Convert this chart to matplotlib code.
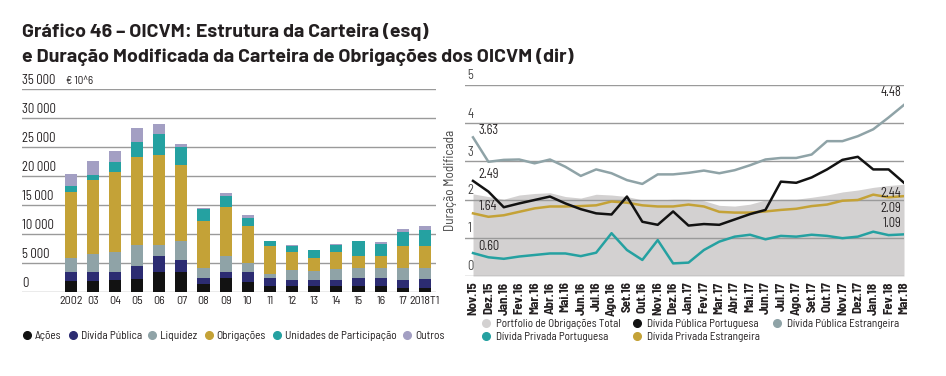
import numpy as np
import matplotlib
matplotlib.use('Agg')
import matplotlib.pyplot as plt
from matplotlib.lines import Line2D
from matplotlib import font_manager
import matplotlib.transforms as mtransforms

# left chart: portfolio structure (EUR 10^6)
years = ['2002', '03', '04', '05', '06', '07', '08', '09', '10', '11', '12', '13', '14', '15', '16', '17', '2018T1']
acoes = [1840, 1840, 2000, 2200, 3400, 3500, 1440, 2360, 1780, 1090, 980, 980, 1090, 1090, 1090, 750, 750]
div_publica = [1660, 1660, 1500, 2340, 2750, 2070, 920, 1140, 1720, 1380, 1150, 1030, 1040, 1270, 1270, 1260, 1430]
liquidez = [2300, 3100, 3450, 3510, 1950, 3170, 1840, 2650, 1500, 690, 1720, 1610, 1840, 1720, 1840, 2070, 1900]
obrigacoes = [11500, 12650, 13800, 15150, 15580, 13210, 8100, 8450, 6440, 4710, 3100, 2180, 2870, 2180, 1950, 3790, 3910]
unid_part = [1000, 950, 1600, 2600, 3620, 3050, 2010, 2010, 1380, 920, 1040, 1380, 1210, 2480, 2130, 2530, 2760]
outros = [2100, 2450, 2020, 2530, 1720, 580, 100, 520, 400, 50, 50, 100, 170, 100, 280, 520, 570]
left_yticks = [0, 5000, 10000, 15000, 20000, 25000, 30000, 35000]
left_ylabels = ['0', '5 000', '10 000', '15 000', '20 000', '25 000', '30 000', '35 000']

# right chart: modified duration
months = ['Nov.15', 'Dez.15', 'Jan.16', 'Fev.16', 'Mar.16', 'Abr.16', 'Mai.16', 'Jun.16', 'Jul.16', 'Ago.16',
          'Set.16', 'Out.16', 'Nov.16', 'Dez.16', 'Jan.17', 'Fev.17', 'Mar.17', 'Abr.17', 'Mai.17', 'Jun.17',
          'Jul.17', 'Ago.17', 'Set.17', 'Out.17', 'Nov.17', 'Dez.17', 'Jan.18', 'Fev.18', 'Mar.18']
portfolio = [2.15, 2.08, 2.01, 2.12, 2.16, 2.18, 2.08, 2.04, 2.14, 2.12, 2.08, 1.99, 1.99, 2.01, 2.01,
             1.97, 1.85, 1.83, 1.88, 1.99, 2.01, 2.01, 2.06, 2.12, 2.20, 2.25, 2.32, 2.37, 2.40]
dp_port = [2.49, 2.21, 1.80, 1.90, 1.99, 2.08, 1.90, 1.75, 1.64, 1.61, 2.08, 1.42, 1.34, 1.69, 1.32,
           1.36, 1.34, 1.48, 1.62, 1.73, 2.47, 2.44, 2.58, 2.79, 3.04, 3.12, 2.79, 2.79, 2.44]
dp_estr = [3.63, 2.99, 3.04, 3.05, 2.95, 3.05, 2.86, 2.62, 2.79, 2.69, 2.51, 2.41, 2.66, 2.66, 2.70,
           2.76, 2.69, 2.77, 2.90, 3.05, 3.09, 3.09, 3.18, 3.53, 3.53, 3.66, 3.84, 4.15, 4.48]
dpr_port = [0.60, 0.49, 0.45, 0.51, 0.55, 0.59, 0.59, 0.52, 0.61, 1.12, 0.68, 0.42, 0.94, 0.33, 0.35,
            0.68, 0.90, 1.03, 1.08, 0.96, 1.05, 1.03, 1.08, 1.05, 0.99, 1.03, 1.16, 1.07, 1.09]
dpr_estr = [1.64, 1.55, 1.59, 1.68, 1.77, 1.82, 1.82, 1.83, 1.85, 1.95, 1.92, 1.85, 1.82, 1.82, 1.87,
            1.82, 1.68, 1.66, 1.66, 1.69, 1.73, 1.76, 1.83, 1.87, 1.97, 1.99, 2.13, 2.06, 2.09]

c_acoes = '#121212'
c_dp = '#2c2c72'
c_liq = '#8fa3a7'
c_obr = '#c4a237'
c_up = '#25a1a1'
c_out = '#a39fc3'
c_port = '#d3d1d1'
c_grid = '#9a9a9a'
c_text = '#231f20'

installed = set(f.name for f in font_manager.fontManager.ttflist)
narrow = next((n for n in ['Barlow Semi Condensed', 'Barlow Condensed', 'Sofia Sans Semi Condensed',
                           'Sofia Sans Condensed'] if n in installed), 'DejaVu Sans')
title_font = 'Barlow' if 'Barlow' in installed else 'Lato'
plt.rcParams['font.family'] = [narrow, 'DejaVu Sans']

fig = plt.figure(figsize=(9.46, 3.76), dpi=100)

fig.text(22 / 946, 1 - 37 / 376, 'Gráfico 46 – OICVM: Estrutura da Carteira (esq)',
         fontsize=14.1, fontweight='bold', family=title_font, color=c_text, va='baseline')
fig.text(22 / 946, 1 - 62 / 376, 'e Duração Modificada da Carteira de Obrigações dos OICVM (dir)',
         fontsize=14.1, fontweight='bold', family=title_font, color=c_text, va='baseline')

# ---- left chart
ax = fig.add_axes([22 / 946, 84 / 376, 414 / 946, 203 / 376])
x = np.arange(len(years))
w = 0.55
bottom = np.zeros(len(years))
for vals, col in [(acoes, c_acoes), (div_publica, c_dp), (liquidez, c_liq),
                  (obrigacoes, c_obr), (unid_part, c_up), (outros, c_out)]:
    ax.bar(x, vals, w, bottom=bottom, color=col, zorder=3, linewidth=0)
    bottom += np.array(vals)
ax.set_xlim(-2.2, 16.5)
ax.set_ylim(0, 35000)
for s in ax.spines.values():
    s.set_visible(False)
ax.set_yticks(left_yticks)
ax.set_yticklabels([])
ax.tick_params(axis='y', length=0)
ax.grid(axis='y', color=c_grid, lw=1.0, zorder=0)
trans = mtransforms.blended_transform_factory(ax.transAxes, ax.transData)
for v, lab in zip(left_yticks, left_ylabels):
    ax.text(0, v + 400, lab, transform=trans, fontsize=9.2, color=c_text, va='bottom', ha='left')
ax.text(0.107, 35500, '€ 10^6', transform=trans, fontsize=8, color=c_text, va='bottom', ha='left')
ax.set_xticks(x)
ax.set_xticklabels(years, fontsize=8.6, color=c_text)
ax.tick_params(axis='x', length=0, pad=3)

left_handles = [Line2D([], [], ls='', marker='o', markersize=5.5, color=c)
                for c in [c_acoes, c_dp, c_liq, c_obr, c_up, c_out]]
fig.legend(left_handles, ['Ações', 'Dívida Pública', 'Liquidez', 'Obrigações', 'Unidades de Participação', 'Outros'],
           loc='center left', bbox_to_anchor=(17 / 946, 1 - 336 / 376), ncol=6, frameon=False,
           fontsize=8.2, handletextpad=0.2, columnspacing=0.45, handlelength=1.0, borderaxespad=0,
           labelcolor=c_text)

# ---- right chart
ax2 = fig.add_axes([465 / 946, 100 / 376, 439 / 946, 191 / 376])
xm = np.arange(len(months))
ax2.fill_between(xm, 0, portfolio, color=c_port, lw=0, zorder=1)
ax2.plot(xm, dp_estr, color=c_liq, lw=1.8, zorder=4)
ax2.plot(xm, dp_port, color=c_acoes, lw=1.8, zorder=5)
ax2.plot(xm, dpr_estr, color=c_obr, lw=1.8, zorder=4)
ax2.plot(xm, dpr_port, color=c_up, lw=1.8, zorder=4)
ax2.set_xlim(-0.52, 28)
ax2.set_ylim(0, 5)
for s in ax2.spines.values():
    s.set_visible(False)
ax2.set_yticks([0, 1, 2, 3, 4, 5])
ax2.set_yticklabels([])
ax2.tick_params(axis='y', length=0)
ax2.grid(axis='y', color=c_grid, lw=1.0, zorder=0)
trans2 = mtransforms.blended_transform_factory(ax2.transAxes, ax2.transData)
for v in [0, 1, 2, 3, 4, 5]:
    ax2.text(0.005, v + 0.07, str(v), transform=trans2, fontsize=9, color='#444444', va='bottom', ha='left', zorder=6)
ax2.set_ylabel('Duração Modificada', fontsize=9.5, color='#444444', labelpad=2)
ax2.set_xticks(xm)
ax2.set_xticklabels(months, rotation=90, fontsize=9.3, fontweight='bold', color=c_text)
ax2.tick_params(axis='x', length=0, pad=4)

for ser in [dp_estr, dp_port, dpr_estr, dpr_port]:
    ax2.annotate(f'{ser[0]:.2f}', (0, ser[0]), xytext=(4, 0), textcoords='offset points',
                 fontsize=9, color=c_text, va='bottom', ha='left', zorder=7)
end_off = [(dp_estr, (-2, 4), 'bottom'), (dp_port, (-2, -3), 'top'),
           (dpr_estr, (-2, -4), 'top'), (dpr_port, (-2, 3), 'bottom')]
for ser, off, va in end_off:
    ax2.annotate(f'{ser[-1]:.2f}', (len(ser) - 1, ser[-1]), xytext=off, textcoords='offset points',
                 fontsize=9, color=c_text, va=va, ha='right', zorder=7)

right_handles = [Line2D([], [], ls='', marker='o', markersize=5.5, color=c)
                 for c in [c_port, c_up, c_acoes, c_obr, c_liq]]
fig.legend(right_handles, ['Portfolio de Obrigações Total', 'Dívida Privada Portuguesa',
                           'Dívida Pública Portuguesa', 'Dívida Privada Estrangeira',
                           'Dívida Pública Estrangeira'],
           loc='upper left', bbox_to_anchor=(476 / 946, 1 - 314 / 376), ncol=3, frameon=False,
           fontsize=8.0, handletextpad=0.4, columnspacing=1.0, handlelength=1.0, borderaxespad=0,
           labelspacing=0.3, labelcolor=c_text)

fig.savefig('out.png', dpi=100)
